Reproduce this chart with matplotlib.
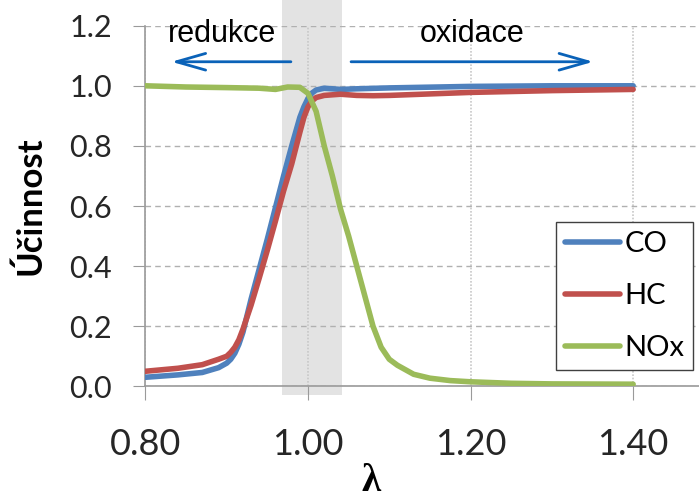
import matplotlib.pyplot as plt
from matplotlib.patches import Rectangle

# values
lam_co = [0.80, 0.84, 0.87, 0.89, 0.90, 0.905, 0.91, 0.915, 0.92, 0.93, 0.94, 0.95,
          0.96, 0.97, 0.98, 0.99, 0.995, 1.00, 1.005, 1.01, 1.02, 1.04, 1.06, 1.10,
          1.20, 1.30, 1.40]
co = [0.030, 0.038, 0.046, 0.062, 0.077, 0.090, 0.11, 0.14, 0.18, 0.29, 0.39, 0.49,
      0.595, 0.70, 0.80, 0.895, 0.93, 0.958, 0.976, 0.986, 0.992, 0.988, 0.990, 0.993,
      0.998, 1.0, 1.0]

lam_hc = [0.80, 0.84, 0.87, 0.89, 0.90, 0.905, 0.91, 0.915, 0.92, 0.93, 0.94, 0.95,
          0.96, 0.97, 0.98, 0.99, 0.995, 1.00, 1.005, 1.01, 1.02, 1.04, 1.06, 1.08,
          1.10, 1.20, 1.30, 1.40]
hc = [0.050, 0.060, 0.072, 0.090, 0.10, 0.113, 0.13, 0.155, 0.19, 0.27, 0.36, 0.453,
      0.55, 0.65, 0.74, 0.845, 0.895, 0.93, 0.95, 0.961, 0.968, 0.972, 0.968, 0.967,
      0.968, 0.978, 0.984, 0.988]

lam_nox = [0.80, 0.85, 0.90, 0.94, 0.96, 0.975, 0.99, 1.00, 1.01, 1.02, 1.03, 1.04,
           1.05, 1.06, 1.07, 1.08, 1.09, 1.10, 1.11, 1.13, 1.15, 1.175, 1.20, 1.25,
           1.30, 1.40]
nox = [1.00, 0.996, 0.994, 0.992, 0.988, 0.996, 0.995, 0.975, 0.915, 0.80, 0.70, 0.59,
       0.50, 0.40, 0.30, 0.20, 0.13, 0.09, 0.07, 0.04, 0.027, 0.019, 0.015, 0.010,
       0.008, 0.007]

x_ticks = [0.80, 1.00, 1.20, 1.40]
y_ticks = [0.0, 0.2, 0.4, 0.6, 0.8, 1.0, 1.2]

plt.rcParams['font.family'] = ['Lato', 'DejaVu Sans']

fig, ax = plt.subplots(figsize=(6.99, 5), dpi=100)
fig.subplots_adjust(left=0.208, right=1.0, bottom=0.2274, top=0.9486)

# shaded stoichiometric window
ax.add_patch(Rectangle((0.968, -0.029), 1.042 - 0.968, 1.32, facecolor='#e3e3e3',
                       edgecolor='none', zorder=0.2, clip_on=False))

ax.plot(lam_co, co, color='#4f81bd', lw=4, label='CO', solid_capstyle='round', zorder=3)
ax.plot(lam_hc, hc, color='#c0504d', lw=4, label='HC', solid_capstyle='round', zorder=3)
ax.plot(lam_nox, nox, color='#9bbb59', lw=4, label='NOx', solid_capstyle='round', zorder=3)

ax.set_xlim(0.8, 1.481)
ax.set_ylim(0, 1.2)
ax.set_xticks(x_ticks)
ax.set_xticklabels(['%.2f' % v for v in x_ticks], fontsize=26)
ax.set_yticks(y_ticks)
ax.set_yticklabels(['%.1f' % v for v in y_ticks], fontsize=22)

ax.set_axisbelow(True)
ax.grid(axis='y', linestyle=(0, (4, 3)), color='#b0b0b0', lw=1)
ax.grid(axis='x', linestyle=(0, (1, 1)), color='#c8c8c8', lw=1.2)

for s in ['top', 'right']:
    ax.spines[s].set_visible(False)
for s in ['left', 'bottom']:
    ax.spines[s].set_color('#9a9a9a')
    ax.spines[s].set_linewidth(1.2)
ax.tick_params(axis='y', length=9, color='#9a9a9a', pad=15, labelcolor='#262626')
ax.tick_params(axis='x', length=10, color='#9a9a9a', pad=20, labelcolor='#262626')

ax.set_ylabel('Účinnost', fontsize=25, fontweight='bold', va='center')
ax.yaxis.set_label_coords(-0.208, 0.5)
ax.set_xlabel('λ', fontsize=28, fontweight='bold', va='center',
              family=['Liberation Serif', 'DejaVu Serif'])
ax.xaxis.set_label_coords(0.408, -0.265)

# reduction / oxidation arrows
arrow_c = '#0a62b8'
ax.annotate('', xy=(0.832, 1.08), xytext=(0.979, 1.08),
            arrowprops=dict(arrowstyle='->,head_length=1.05,head_width=0.3', lw=2,
                            color=arrow_c, mutation_scale=20, shrinkA=0, shrinkB=0))
ax.annotate('', xy=(1.351, 1.08), xytext=(1.053, 1.08),
            arrowprops=dict(arrowstyle='->,head_length=1.05,head_width=0.3', lw=2,
                            color=arrow_c, mutation_scale=20, shrinkA=0, shrinkB=0))
ax.text(0.894, 1.146, 'redukce', ha='center', va='baseline', fontsize=22,
        family='Liberation Sans')
ax.text(1.202, 1.146, 'oxidace', ha='center', va='baseline', fontsize=22,
        family='Liberation Sans')

leg = ax.legend(loc='lower right', bbox_to_anchor=(0.99, 0.045), fontsize=21,
                fancybox=False, framealpha=1, edgecolor='#404040', handlelength=1.9,
                handletextpad=0.15, borderpad=0.3, labelspacing=0.9, borderaxespad=0)
leg.get_frame().set_linewidth(1)

fig.savefig('out.png', dpi=100)
